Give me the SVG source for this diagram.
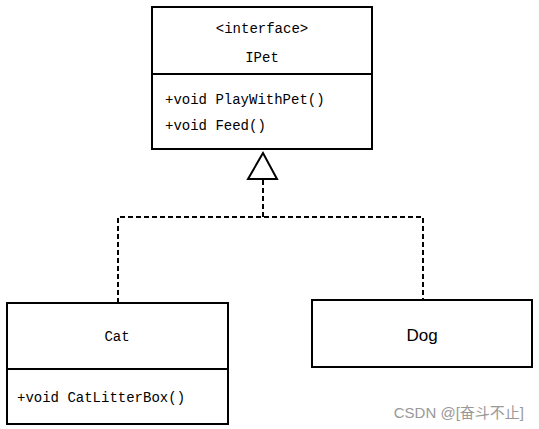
<svg xmlns="http://www.w3.org/2000/svg" width="539" height="429" viewBox="0 0 539 429">
<style>
.box{fill:#fff;stroke:#000;stroke-width:2}
.div{stroke:#000;stroke-width:2}
.mono{font-family:"Liberation Mono","DejaVu Sans Mono",monospace;font-size:14px;fill:#000}
.sans{font-family:"Liberation Sans",Arial,sans-serif;font-size:17px;fill:#000}
.dash{fill:none;stroke:#000;stroke-width:2;stroke-dasharray:5 3}
.wm{font-family:"Liberation Sans","Noto Sans CJK SC",sans-serif;font-size:15px;fill:#999}
</style>
<rect width="539" height="429" fill="#fff"/>
<g id="connectors">
<polyline class="dash" points="263,180 263,217"/>
<polyline class="dash" points="118,303 118,217 423,217 423,300"/>
<polygon points="263,153 248,179 277,179" fill="#fff" stroke="#000" stroke-width="2"/>
</g>
<g id="IPet">
<rect class="box" x="152" y="7" width="220" height="142"/>
<line class="div" x1="152" y1="74" x2="372" y2="74"/>
<text class="mono" x="262" y="33" text-anchor="middle">&lt;interface&gt;</text>
<text class="mono" x="262" y="62" text-anchor="middle">IPet</text>
<text class="mono" x="165" y="104">+void PlayWithPet()</text>
<text class="mono" x="165" y="130">+void Feed()</text>
</g>
<g id="Cat">
<rect class="box" x="7" y="303" width="221" height="121"/>
<line class="div" x1="7" y1="369" x2="228" y2="369"/>
<text class="mono" x="117" y="341" text-anchor="middle">Cat</text>
<text class="mono" x="17" y="402">+void CatLitterBox()</text>
</g>
<g id="Dog">
<rect class="box" x="312" y="300" width="220" height="67"/>
<text class="sans" x="422" y="341" text-anchor="middle">Dog</text>
</g>
<text class="wm" x="524" y="418" text-anchor="end">CSDN @[奋斗不止]</text>
</svg>
